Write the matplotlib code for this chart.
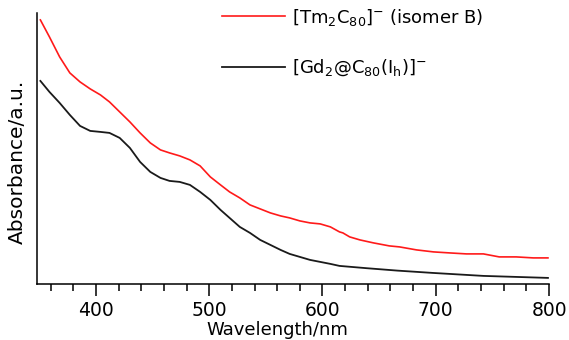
import matplotlib
matplotlib.use("Agg")
import matplotlib.pyplot as plt
from matplotlib.ticker import MultipleLocator

plt.rcParams['font.family'] = ['DejaVu Sans']
plt.rcParams['mathtext.fontset'] = 'dejavusans'

# [Tm2C80]- (isomer B) (a.u.)
wl_tm = [351, 359, 368, 377, 386, 395, 404, 412, 421, 430, 439, 448, 457, 465,
         474, 483, 492, 501, 510, 518, 527, 536, 545, 554, 563, 571, 580, 589,
         598, 607, 615, 618, 624, 633, 645, 659, 668, 683, 698, 712, 727, 742,
         756, 771, 786, 799]
abs_tm = [2.64, 2.47, 2.27, 2.11, 2.02, 1.95, 1.89, 1.82, 1.72, 1.62, 1.51, 1.41,
          1.34, 1.31, 1.28, 1.24, 1.18, 1.07, 0.99, 0.92, 0.86, 0.79, 0.75, 0.71,
          0.68, 0.66, 0.63, 0.61, 0.60, 0.57, 0.52, 0.51, 0.47, 0.44, 0.41, 0.38,
          0.37, 0.34, 0.32, 0.31, 0.30, 0.30, 0.27, 0.27, 0.26, 0.26]

# [Gd2@C80(Ih)]-
wl_gd = [351, 359, 368, 377, 386, 395, 404, 412, 421, 430, 439, 448, 457, 465,
         474, 483, 492, 501, 510, 518, 527, 536, 545, 554, 563, 571, 580, 589,
         598, 607, 615, 639, 666, 697, 742, 799]
abs_gd = [2.03, 1.92, 1.81, 1.69, 1.58, 1.53, 1.52, 1.51, 1.46, 1.36, 1.22, 1.12,
          1.06, 1.03, 1.02, 0.99, 0.92, 0.84, 0.74, 0.66, 0.57, 0.51, 0.44, 0.39,
          0.34, 0.30, 0.27, 0.24, 0.22, 0.20, 0.18, 0.157, 0.133, 0.11, 0.08, 0.06]

labels = [r'[Tm$_{\mathrm{2}}$C$_{\mathrm{80}}$]$^{\mathrm{-}}$ (isomer B)',
          r'[Gd$_{\mathrm{2}}$@C$_{\mathrm{80}}$(I$_{\mathrm{h}}$)]$^{\mathrm{-}}$']

fig = plt.figure(figsize=(5.69, 3.4), dpi=100)
ax = fig.add_axes([0.065, 0.165, 0.9, 0.797])

ax.plot(wl_tm, abs_tm, color='#ff1a1a', lw=1.2, label=labels[0])
ax.plot(wl_gd, abs_gd, color='#1a1a1a', lw=1.3, label=labels[1])

ax.set_xlim(348, 800)
ax.set_ylim(0, 2.71)
ax.spines['top'].set_visible(False)
ax.spines['right'].set_visible(False)
ax.spines['left'].set_linewidth(1.1)
ax.spines['bottom'].set_linewidth(1.1)
ax.set_yticks([])
ax.xaxis.set_major_locator(MultipleLocator(100))
ax.xaxis.set_minor_locator(MultipleLocator(20))
ax.tick_params(axis='x', which='major', length=8.5, width=1.1, labelsize=13.5, pad=4)
ax.tick_params(axis='x', which='minor', length=5, width=1.1)

ax.set_xlabel('Wavelength/nm', fontsize=13, va='bottom')
ax.xaxis.set_label_coords(0.469, -0.203)
ax.set_ylabel('Absorbance/a.u.', fontsize=14.5)
ax.yaxis.set_label_coords(-0.02, 0.45)

ax.legend(loc='upper left', bbox_to_anchor=(0.39, 0.98), bbox_transform=fig.transFigure,
          frameon=False, fontsize=13, handlelength=3.5, handletextpad=0.4,
          labelspacing=1.65, borderpad=0, borderaxespad=0)

fig.savefig('out.png', dpi=100)
